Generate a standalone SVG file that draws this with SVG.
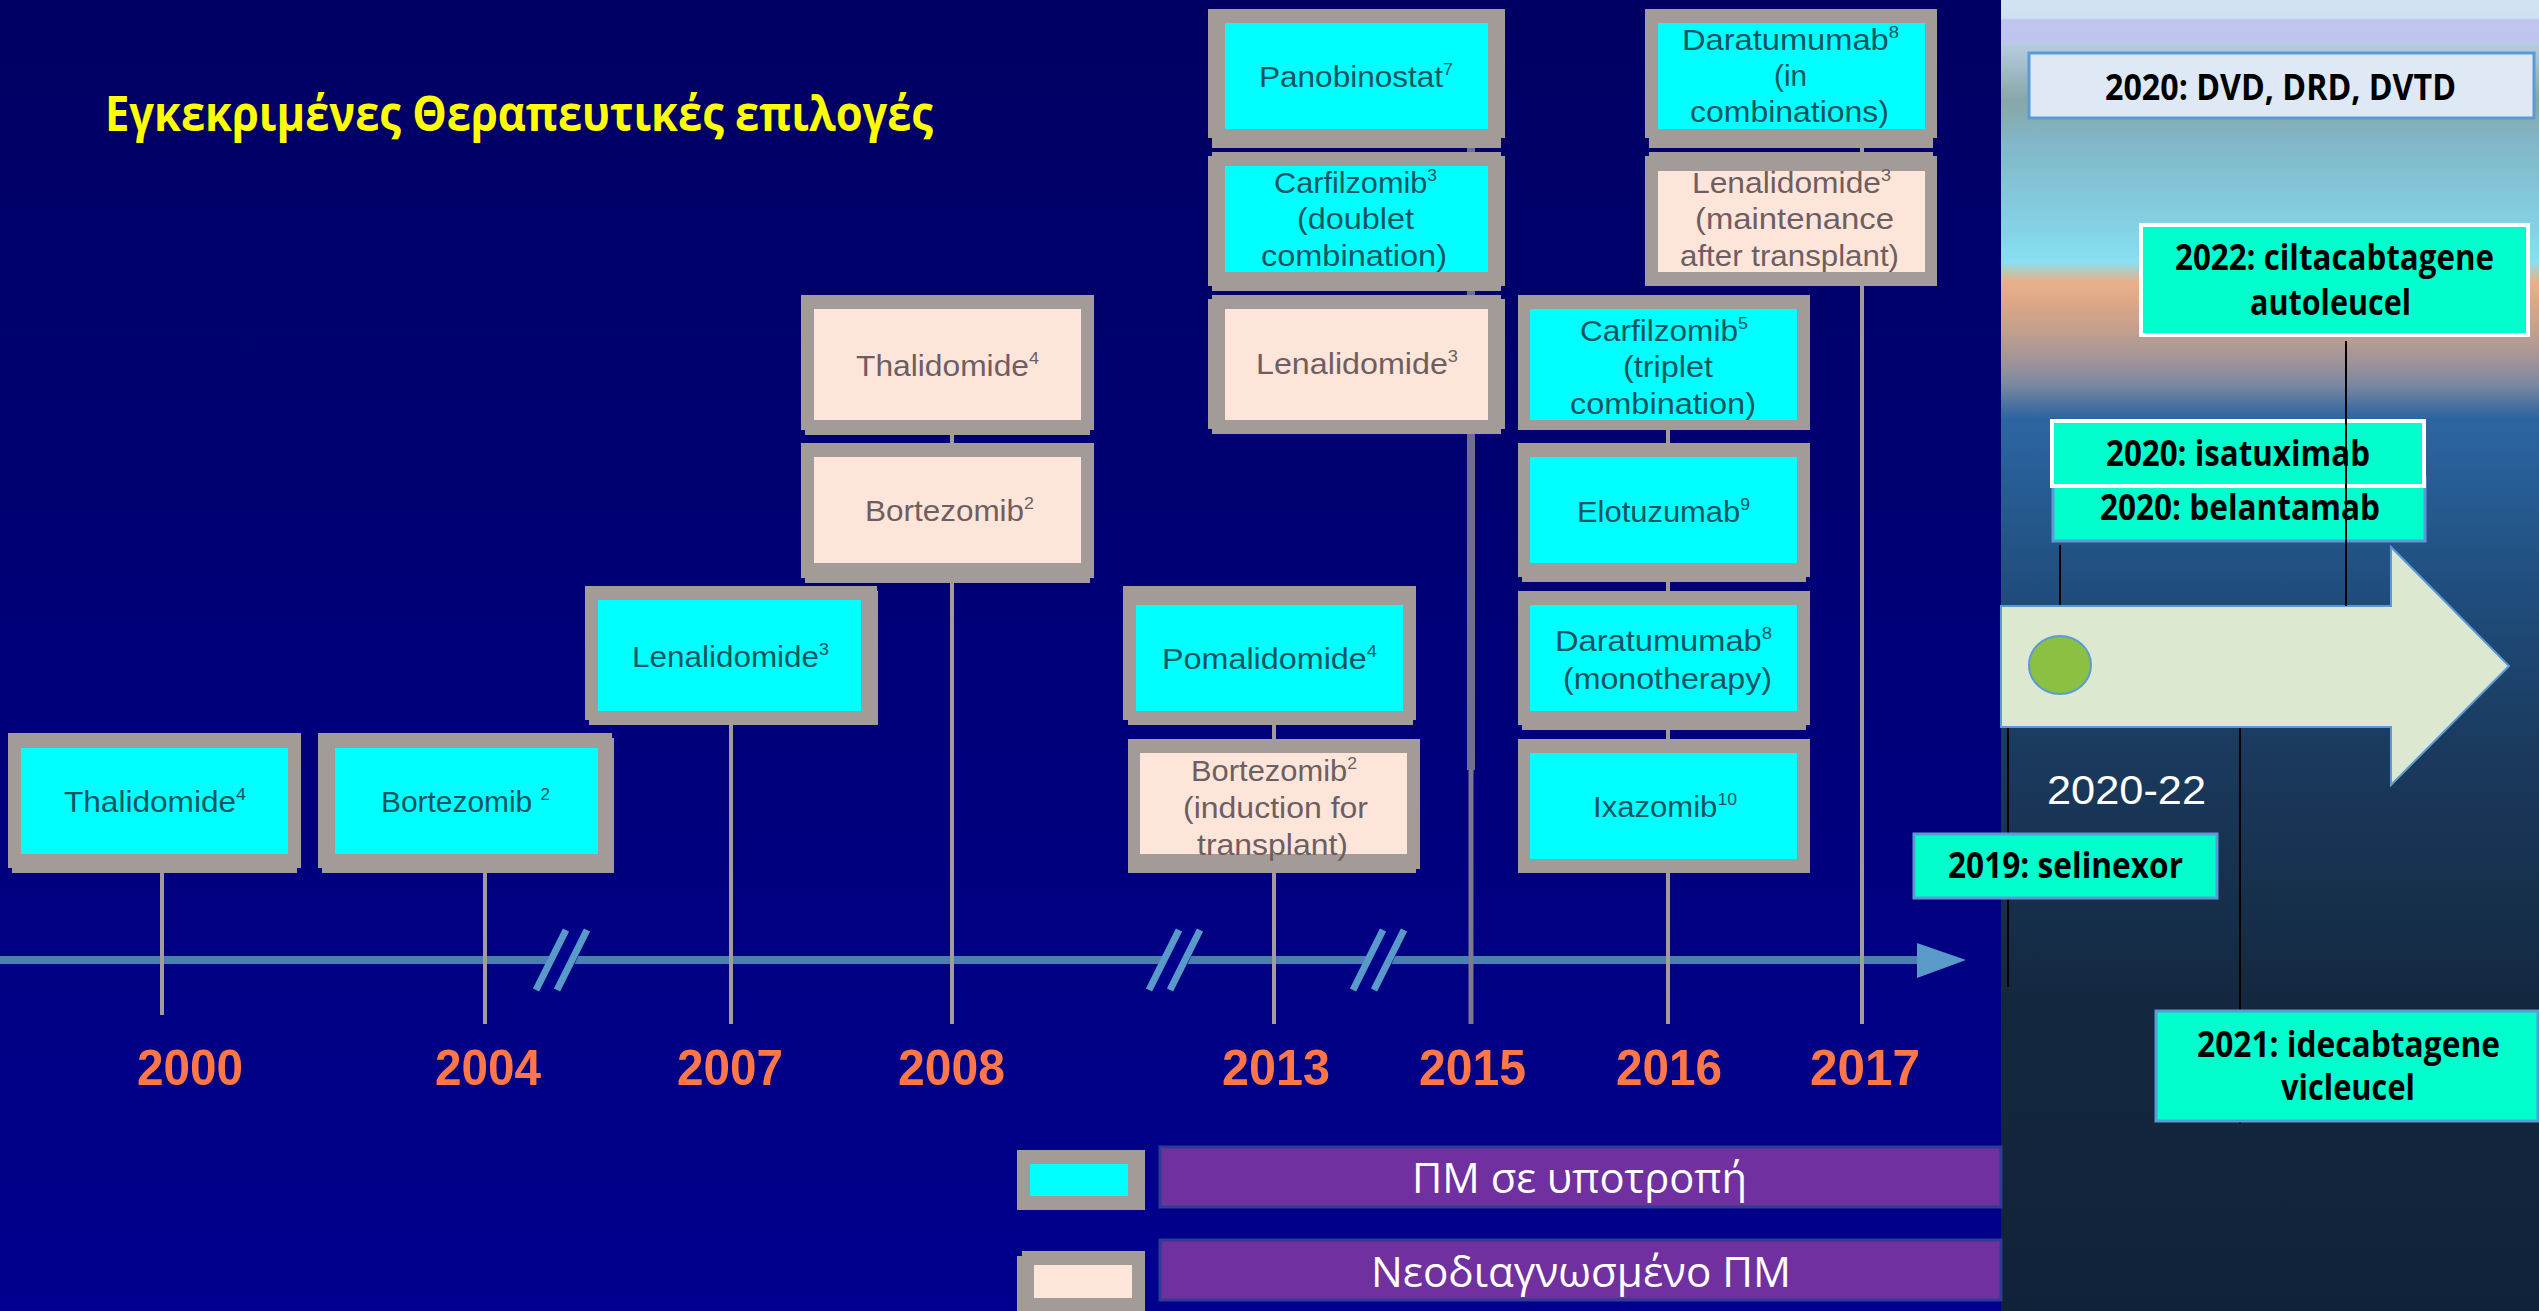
<svg xmlns="http://www.w3.org/2000/svg" width="2539" height="1311" viewBox="0 0 2539 1311">
<defs>
<linearGradient id="navy" x1="0" y1="0" x2="0" y2="1311" gradientUnits="userSpaceOnUse">
<stop offset="0" stop-color="#000062"/>
<stop offset="1" stop-color="#00008e"/>
</linearGradient>
<linearGradient id="sky" x1="0" y1="0" x2="0" y2="1311" gradientUnits="userSpaceOnUse">
<stop offset="0" stop-color="#d2e3f3"/>
<stop offset="0.0137" stop-color="#cfe0f2"/>
<stop offset="0.0153" stop-color="#c0c5f0"/>
<stop offset="0.0313" stop-color="#bec4ee"/>
<stop offset="0.0336" stop-color="#b6cde0"/>
<stop offset="0.0763" stop-color="#88a6a8"/>
<stop offset="0.1068" stop-color="#82b6c6"/>
<stop offset="0.1754" stop-color="#84d2e6"/>
<stop offset="0.1998" stop-color="#88e0f2"/>
<stop offset="0.2059" stop-color="#b2ccc0"/>
<stop offset="0.2151" stop-color="#eab08a"/>
<stop offset="0.2288" stop-color="#dea888"/>
<stop offset="0.2517" stop-color="#c4a08e"/>
<stop offset="0.2746" stop-color="#a29498"/>
<stop offset="0.2937" stop-color="#7a88a0"/>
<stop offset="0.3089" stop-color="#4a72a0"/>
<stop offset="0.3188" stop-color="#2c66a2"/>
<stop offset="0.4577" stop-color="#1f4c7b"/>
<stop offset="0.5721" stop-color="#1a3a5e"/>
<stop offset="0.7628" stop-color="#13283f"/>
<stop offset="1" stop-color="#10223a"/>
</linearGradient>
</defs>
<style>
.fr{fill:#a39b98}
.cy{fill:#00ffff}
.pe{fill:#fee5da}
.t{font-family:"Liberation Sans",Arial,sans-serif;font-size:30px}
.tc{fill:#0e5560}
.tp{fill:#6e5e62}
.stem{stroke:#a39b98;stroke-width:4;fill:none}
.yr{font-family:"Liberation Sans",Arial,sans-serif;font-weight:700;font-size:50px;fill:#ff7648}
.rb{font-family:"Open Sans","Noto Sans",sans-serif;font-weight:700;font-size:35px;fill:#000}
.mint{fill:#00ffcc}
.bl{stroke:#5b9bd5;stroke-width:3}
.wh{stroke:#ffffff;stroke-width:4}
.blk{stroke:#000;stroke-width:2;fill:none}
.brk{stroke:#5a9ac8;stroke-width:7;stroke-linecap:butt}
.leg{font-family:"Open Sans","Noto Sans",sans-serif;font-size:42px;fill:#ffffff}
.bar{fill:#7030a0;stroke:#2d3d92;stroke-width:3}
</style>

<rect x="0" y="0" width="2001" height="1311" fill="url(#navy)"/>
<rect x="2001" y="0" width="538" height="1311" fill="url(#sky)"/>

<g id="title">
<text x="105" y="131" textLength="828" lengthAdjust="spacingAndGlyphs" style="font-family:'Open Sans','Noto Sans',sans-serif;font-weight:700;font-size:48px;fill:#ffff00">Εγκεκριμένες Θεραπευτικές επιλογές</text>
</g>

<g id="axis">
<line x1="0" y1="960" x2="1922" y2="960" stroke="#4a80b0" stroke-width="8"/>
<polygon points="1917,943 1966,960 1917,978" fill="#5a9ac8"/>
</g>

<g id="connectors">
<line class="stem" x1="162" y1="868" x2="162" y2="1015"/>
<line class="stem" x1="485" y1="868" x2="485" y2="1024"/>
<line class="stem" x1="731" y1="720" x2="731" y2="1024"/>
<line class="stem" x1="952" y1="430" x2="952" y2="1024"/>
<line class="stem" x1="1274" y1="720" x2="1274" y2="1024"/>
<line x1="1471" y1="139" x2="1471" y2="770" stroke="#726e92" stroke-width="8"/>
<line x1="1471" y1="770" x2="1471" y2="1024" stroke="#7c7896" stroke-width="5"/>
<line class="stem" x1="1668" y1="430" x2="1668" y2="1024"/>
<line class="stem" x1="1862" y1="139" x2="1862" y2="1024"/>
<line class="blk" x1="2060" y1="545" x2="2060" y2="606"/>
<line class="blk" x1="2008" y1="727" x2="2008" y2="987"/>
<line class="blk" x1="2240" y1="727" x2="2240" y2="1124"/>
</g>

<g id="breaks">
<line x1="547" y1="992" x2="577" y2="928" stroke="#00008a" stroke-width="26"/>
<line class="brk" x1="536" y1="990" x2="566" y2="930"/>
<line class="brk" x1="557" y1="990" x2="587" y2="930"/>
<line x1="1160" y1="992" x2="1190" y2="928" stroke="#00008a" stroke-width="26"/>
<line class="brk" x1="1149" y1="990" x2="1179" y2="930"/>
<line class="brk" x1="1170" y1="990" x2="1200" y2="930"/>
<line x1="1364" y1="992" x2="1394" y2="928" stroke="#00008a" stroke-width="26"/>
<line class="brk" x1="1353" y1="990" x2="1383" y2="930"/>
<line class="brk" x1="1374" y1="990" x2="1404" y2="930"/>
</g>

<g id="years">
<text class="yr" x="137" y="1085" textLength="106" lengthAdjust="spacingAndGlyphs">2000</text>
<text class="yr" x="435" y="1085" textLength="106" lengthAdjust="spacingAndGlyphs">2004</text>
<text class="yr" x="677" y="1085" textLength="106" lengthAdjust="spacingAndGlyphs">2007</text>
<text class="yr" x="898" y="1085" textLength="107" lengthAdjust="spacingAndGlyphs">2008</text>
<text class="yr" x="1222" y="1085" textLength="108" lengthAdjust="spacingAndGlyphs">2013</text>
<text class="yr" x="1419" y="1085" textLength="107" lengthAdjust="spacingAndGlyphs">2015</text>
<text class="yr" x="1616" y="1085" textLength="106" lengthAdjust="spacingAndGlyphs">2016</text>
<text class="yr" x="1810" y="1085" textLength="110" lengthAdjust="spacingAndGlyphs">2017</text>
</g>

<g id="n-thalidomide-2000">
<rect class="fr" x="8" y="733" width="293" height="135"/><rect class="fr" x="12" y="738" width="285" height="135"/>
<rect class="cy" x="21" y="748" width="267" height="106"/>
<text class="t tc" x="64" y="812" textLength="182" lengthAdjust="spacingAndGlyphs">Thalidomide<tspan font-size="17" dy="-12">4</tspan></text>
</g>
<g id="n-bortezomib-2004">
<rect class="fr" x="318" y="733" width="294" height="135"/><rect class="fr" x="322" y="738" width="292" height="135"/>
<rect class="cy" x="335" y="748" width="263" height="106"/>
<text class="t tc" x="381" y="812" textLength="169" lengthAdjust="spacingAndGlyphs">Bortezomib <tspan font-size="17" dy="-12">2</tspan></text>
</g>
<g id="n-lenalidomide-2007">
<rect class="fr" x="585" y="586" width="292" height="134"/><rect class="fr" x="589" y="591" width="289" height="134"/>
<rect class="cy" x="598" y="600" width="263" height="111"/>
<text class="t tc" x="632" y="667" textLength="197" lengthAdjust="spacingAndGlyphs">Lenalidomide<tspan font-size="17" dy="-12">3</tspan></text>
</g>
<g id="n-thalidomide-2008">
<rect class="fr" x="801" y="295" width="293" height="135"/><rect class="fr" x="805" y="300" width="285" height="135"/>
<rect class="pe" x="814" y="309" width="267" height="111"/>
<text class="t tp" x="856" y="376" textLength="183" lengthAdjust="spacingAndGlyphs">Thalidomide<tspan font-size="17" dy="-12">4</tspan></text>
</g>
<g id="n-bortezomib-2008">
<rect class="fr" x="801" y="443" width="293" height="135"/><rect class="fr" x="805" y="448" width="285" height="135"/>
<rect class="pe" x="814" y="457" width="267" height="106"/>
<text class="t tp" x="865" y="521" textLength="169" lengthAdjust="spacingAndGlyphs">Bortezomib<tspan font-size="17" dy="-12">2</tspan></text>
</g>
<g id="n-pomalidomide">
<rect class="fr" x="1123" y="586" width="293" height="134"/><rect class="fr" x="1128" y="591" width="285" height="134"/>
<rect class="cy" x="1136" y="605" width="267" height="106"/>
<text class="t tc" x="1162" y="669" textLength="215" lengthAdjust="spacingAndGlyphs">Pomalidomide<tspan font-size="17" dy="-12">4</tspan></text>
</g>
<g id="n-bortezomib-induction">
<rect class="fr" x="1128" y="739" width="292" height="130"/><rect class="fr" x="1128" y="743" width="288" height="130"/>
<rect class="pe" x="1140" y="753" width="267" height="101"/>
<text class="t tp" x="1191" y="781" textLength="166" lengthAdjust="spacingAndGlyphs">Bortezomib<tspan font-size="17" dy="-12">2</tspan></text>
<text class="t tp" x="1183" y="818" textLength="185" lengthAdjust="spacingAndGlyphs">(induction for</text>
<text class="t tp" x="1197" y="855" textLength="151" lengthAdjust="spacingAndGlyphs">transplant)</text>
</g>
<g id="n-panobinostat">
<rect class="fr" x="1208" y="9" width="297" height="129"/><rect class="fr" x="1212" y="14" width="289" height="134"/>
<rect class="cy" x="1225" y="23" width="263" height="106"/>
<text class="t tc" x="1259" y="87" textLength="194" lengthAdjust="spacingAndGlyphs">Panobinostat<tspan font-size="17" dy="-12">7</tspan></text>
</g>
<g id="n-carfilzomib-doublet">
<rect class="fr" x="1208" y="156" width="297" height="130"/><rect class="fr" x="1212" y="152" width="289" height="139"/>
<rect class="cy" x="1225" y="166" width="263" height="106"/>
<text class="t tc" x="1274" y="193" textLength="163" lengthAdjust="spacingAndGlyphs">Carfilzomib<tspan font-size="17" dy="-12">3</tspan></text>
<text class="t tc" x="1297" y="229" textLength="117" lengthAdjust="spacingAndGlyphs">(doublet</text>
<text class="t tc" x="1261" y="266" textLength="186" lengthAdjust="spacingAndGlyphs">combination)</text>
</g>
<g id="n-lenalidomide-2013">
<rect class="fr" x="1208" y="299" width="297" height="130"/><rect class="fr" x="1212" y="295" width="289" height="139"/>
<rect class="pe" x="1225" y="309" width="263" height="111"/>
<text class="t tp" x="1256" y="374" textLength="202" lengthAdjust="spacingAndGlyphs">Lenalidomide<tspan font-size="17" dy="-12">3</tspan></text>
</g>
<g id="n-daratumumab-combinations">
<rect class="fr" x="1645" y="9" width="292" height="129"/><rect class="fr" x="1649" y="14" width="284" height="134"/>
<rect class="cy" x="1658" y="23" width="267" height="106"/>
<text class="t tc" x="1682" y="50" textLength="217" lengthAdjust="spacingAndGlyphs">Daratumumab<tspan font-size="17" dy="-12">8</tspan></text>
<text class="t tc" x="1774" y="86" textLength="33" lengthAdjust="spacingAndGlyphs">(in</text>
<text class="t tc" x="1690" y="122" textLength="199" lengthAdjust="spacingAndGlyphs">combinations)</text>
</g>
<g id="n-lenalidomide-maintenance">
<rect class="fr" x="1645" y="156" width="292" height="130"/><rect class="fr" x="1649" y="152" width="284" height="134"/>
<rect class="pe" x="1658" y="171" width="267" height="101"/>
<text class="t tp" x="1692" y="193" textLength="199" lengthAdjust="spacingAndGlyphs">Lenalidomide<tspan font-size="17" dy="-12">3</tspan></text>
<text class="t tp" x="1695" y="229" textLength="199" lengthAdjust="spacingAndGlyphs">(maintenance</text>
<text class="t tp" x="1680" y="266" textLength="219" lengthAdjust="spacingAndGlyphs">after transplant)</text>
</g>
<g id="n-carfilzomib-triplet">
<rect class="fr" x="1518" y="295" width="292" height="135"/>
<rect class="cy" x="1530" y="309" width="267" height="111"/>
<text class="t tc" x="1580" y="341" textLength="168" lengthAdjust="spacingAndGlyphs">Carfilzomib<tspan font-size="17" dy="-12">5</tspan></text>
<text class="t tc" x="1623" y="377" textLength="90" lengthAdjust="spacingAndGlyphs">(triplet</text>
<text class="t tc" x="1570" y="414" textLength="186" lengthAdjust="spacingAndGlyphs">combination)</text>
</g>
<g id="n-elotuzumab">
<rect class="fr" x="1518" y="443" width="292" height="134"/><rect class="fr" x="1522" y="448" width="284" height="134"/>
<rect class="cy" x="1530" y="457" width="267" height="106"/>
<text class="t tc" x="1577" y="522" textLength="173" lengthAdjust="spacingAndGlyphs">Elotuzumab<tspan font-size="17" dy="-12">9</tspan></text>
</g>
<g id="n-daratumumab-monotherapy">
<rect class="fr" x="1518" y="591" width="292" height="134"/><rect class="fr" x="1522" y="596" width="284" height="134"/>
<rect class="cy" x="1530" y="605" width="267" height="106"/>
<text class="t tc" x="1555" y="651" textLength="217" lengthAdjust="spacingAndGlyphs">Daratumumab<tspan font-size="17" dy="-12">8</tspan></text>
<text class="t tc" x="1563" y="689" textLength="209" lengthAdjust="spacingAndGlyphs">(monotherapy)</text>
</g>
<g id="n-ixazomib">
<rect class="fr" x="1518" y="739" width="292" height="134"/>
<rect class="cy" x="1530" y="753" width="267" height="106"/>
<text class="t tc" x="1593" y="817" textLength="144" lengthAdjust="spacingAndGlyphs">Ixazomib<tspan font-size="17" dy="-12">10</tspan></text>
</g>

<g id="legend-relapsed">
<rect class="fr" x="1017" y="1150" width="128" height="60"/>
<rect class="cy" x="1030" y="1164" width="98" height="32"/>
<rect class="bar" x="1160" y="1147" width="841" height="60"/>
<text class="leg" x="1412" y="1193" textLength="335" lengthAdjust="spacingAndGlyphs">ΠΜ σε υποτροπή</text>
</g>
<g id="legend-newly">
<rect class="fr" x="1022" y="1251" width="123" height="70"/><rect class="fr" x="1017" y="1256" width="128" height="70"/>
<rect class="pe" x="1034" y="1265" width="98" height="33"/>
<rect class="bar" x="1160" y="1240" width="841" height="60"/>
<text class="leg" x="1371" y="1287" textLength="420" lengthAdjust="spacingAndGlyphs">Νεοδιαγνωσμένο ΠΜ</text>
</g>

<g id="n-arrow-2020-22">
<polygon points="2001,606 2391,606 2391,547 2509,666 2391,785 2391,727 2001,727" fill="#dde8d0" stroke="#5b9bd5" stroke-width="2"/>
<ellipse cx="2060" cy="665" rx="31" ry="29" fill="#8cc043" stroke="#5b9bd5" stroke-width="2"/>
<text x="2047" y="804" textLength="159" lengthAdjust="spacingAndGlyphs" style="font-family:'Liberation Sans',Arial,sans-serif;font-size:41px;fill:#ffffff">2020-22</text>
</g>

<g id="n-dvd">
<rect x="2029" y="53" width="505" height="65" fill="#dee9f5" class="bl" stroke-width="4"/>
<text class="rb" x="2105" y="100" textLength="351" lengthAdjust="spacingAndGlyphs">2020: DVD, DRD, DVTD</text>
</g>
<g id="n-cilta">
<rect class="mint wh" x="2141" y="225" width="387" height="110"/>
<text class="rb" x="2175" y="270" textLength="319" lengthAdjust="spacingAndGlyphs">2022: ciltacabtagene</text>
<text class="rb" x="2250" y="315" textLength="161" lengthAdjust="spacingAndGlyphs">autoleucel</text>
</g>
<g id="n-belantamab">
<rect class="mint bl" x="2053" y="478" width="372" height="63"/>
<text class="rb" x="2100" y="520" textLength="280" lengthAdjust="spacingAndGlyphs">2020: belantamab</text>
</g>
<g id="n-isatuximab">
<rect class="mint wh" x="2052" y="421" width="372" height="65"/>
<text class="rb" x="2106" y="466" textLength="264" lengthAdjust="spacingAndGlyphs">2020: isatuximab</text>
</g>
<g id="n-selinexor">
<rect class="mint bl" x="1914" y="834" width="303" height="64"/>
<text class="rb" x="1948" y="878" textLength="235" lengthAdjust="spacingAndGlyphs">2019: selinexor</text>
</g>
<g id="n-idecabtagene">
<rect class="mint bl" x="2156" y="1011" width="382" height="110"/>
<text class="rb" x="2197" y="1057" textLength="303" lengthAdjust="spacingAndGlyphs">2021: idecabtagene</text>
<text class="rb" x="2281" y="1100" textLength="134" lengthAdjust="spacingAndGlyphs">vicleucel</text>
</g>

<g id="connectors-front">
<line class="blk" x1="2346" y1="341" x2="2346" y2="606"/>
</g>
</svg>
